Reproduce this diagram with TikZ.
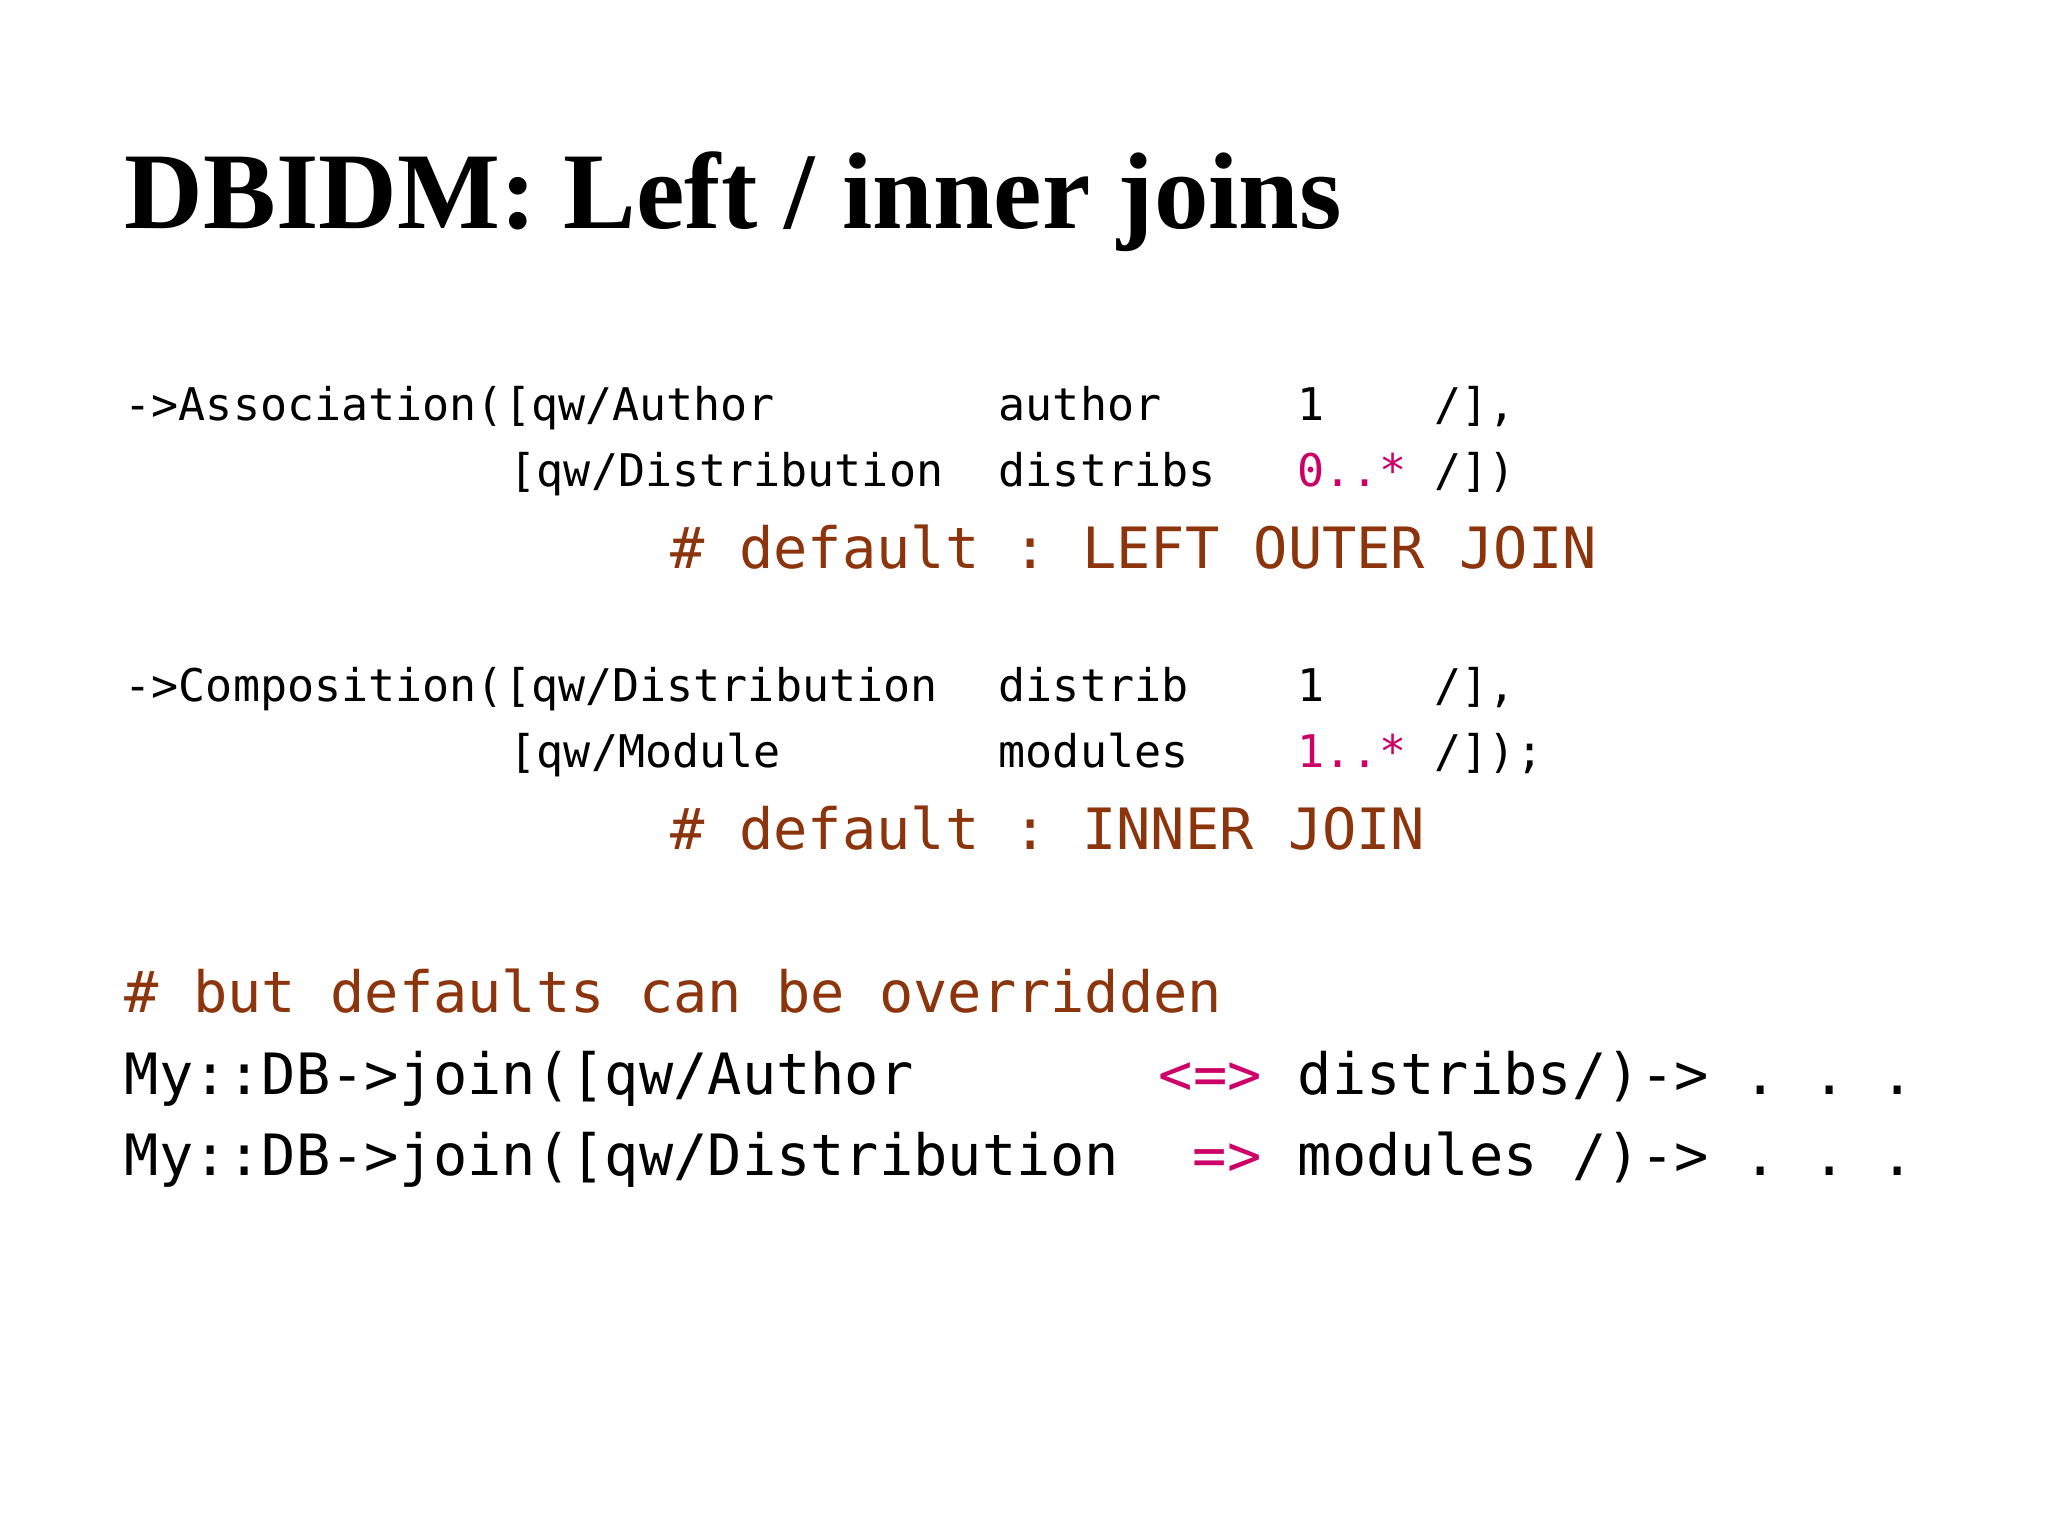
\documentclass[tikz,border=0pt]{standalone}
\usepackage{fontspec}
\setmainfont{Liberation Serif}
\newfontfamily\monof{DejaVu Sans Mono}
\definecolor{cbrown}{RGB}{140,52,12}
\definecolor{cmag}{RGB}{204,0,102}
\begin{document}
\begin{tikzpicture}[x=0.01cm,y=-0.01cm,
  sm/.style={anchor=base west,inner sep=0,font=\monof\fontsize{12.8}{14}\selectfont},
  lg/.style={anchor=base west,inner sep=0,font=\monof\fontsize{16.2}{18}\selectfont}]
\useasboundingbox (0,0) rectangle (2048,1536);
\node[anchor=base west,inner sep=0,font=\bfseries\fontsize{31}{36}\selectfont] (title) at (124,228) {DBIDM: Left / inner joins};
% Association
\node[sm] (a1) at (124,420) {->Association([qw/Author};
\node[sm] (a2) at (998,420) {author};
\node[sm] (a3) at (1297,420) {1};
\node[sm] (a4) at (1434,420) {/],};
\node[sm] (b1) at (509,486) {[qw/Distribution};
\node[sm] (b2) at (998,486) {distribs};
\node[sm,text=cmag] (b3) at (1297,486) {0..*};
\node[sm] (b4) at (1434,486) {/])};
\node[lg,text=cbrown] (c1) at (670,568) {\#\ default\ :\ LEFT\ OUTER\ JOIN};
% Composition
\node[sm] (d1) at (124,701) {->Composition([qw/Distribution};
\node[sm] (d2) at (998,701) {distrib};
\node[sm] (d3) at (1297,701) {1};
\node[sm] (d4) at (1434,701) {/],};
\node[sm] (e1) at (509,767) {[qw/Module};
\node[sm] (e2) at (998,767) {modules};
\node[sm,text=cmag] (e3) at (1297,767) {1..*};
\node[sm] (e4) at (1434,767) {/]);};
\node[lg,text=cbrown] (f1) at (670,849) {\#\ default\ :\ INNER\ JOIN};
% overrides
\node[lg,text=cbrown] (g1) at (124,1012) {\#\ but\ defaults\ can\ be\ overridden};
\node[lg] (h1) at (124,1094) {My::DB->join([qw/Author};
\node[lg,text=cmag] (h2) at (1158,1094) {<=>};
\node[lg] (h3) at (1297,1094) {distribs/)->\ .\ .\ .};
\node[lg] (i1) at (124,1175) {My::DB->join([qw/Distribution};
\node[lg,text=cmag] (i2) at (1192,1175) {=>};
\node[lg] (i3) at (1297,1175) {modules\ /)->\ .\ .\ .};
\end{tikzpicture}
\end{document}
